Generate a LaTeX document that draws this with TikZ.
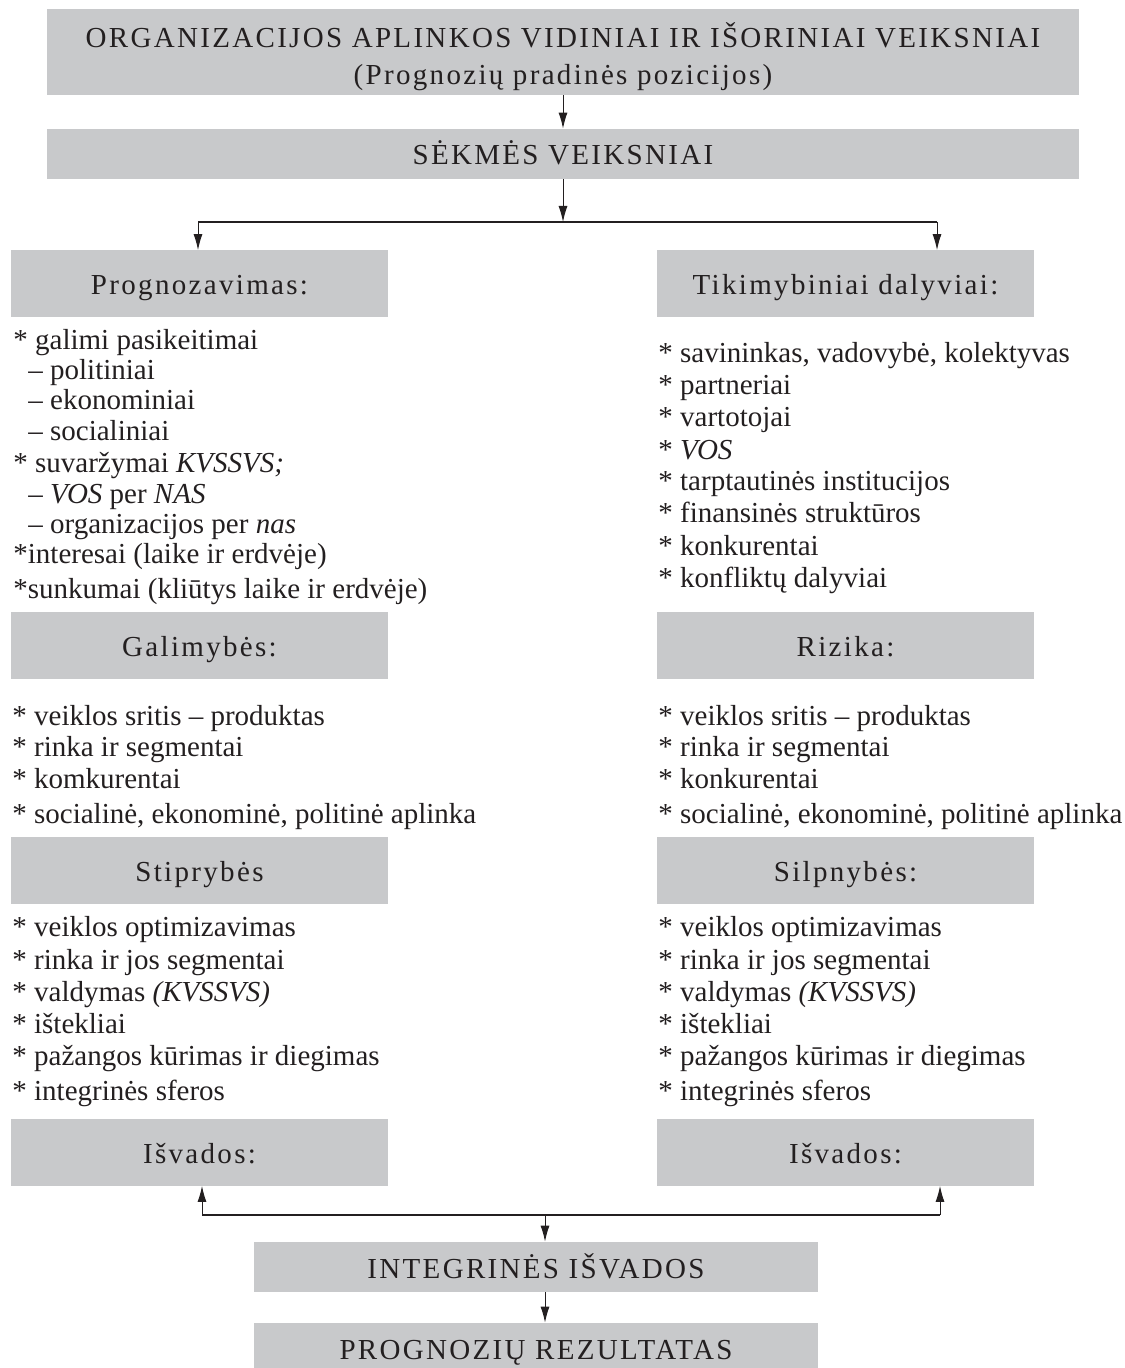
\documentclass[tikz,border=0pt]{standalone}
\usepackage{fontspec}
\setmainfont{Liberation Serif}
\newfontfamily\spacedfont[LetterSpace=8]{Liberation Serif}
\usetikzlibrary{arrows.meta}
\definecolor{boxgray}{HTML}{C8C9CB}
\definecolor{ink}{HTML}{231F20}

\begin{document}
\begin{tikzpicture}[x=0.5pt, y=-0.5pt,
  hbox/.style={fill=boxgray, inner sep=0pt, text=ink, align=center,
    font=\spacedfont\fontsize{14.5}{18.5}\selectfont},
  wide/.style={minimum width=516pt, minimum height=25pt, text height=14pt, text depth=3pt},
  side/.style={minimum width=188.5pt, minimum height=33.5pt, text height=14pt, text depth=3pt},
  mid/.style={minimum width=282pt, minimum height=25pt, text height=14pt, text depth=3pt},
  item/.style={anchor=base west, inner sep=0pt, text=ink, font=\fontsize{14.5}{17}\selectfont},
  arr/.style={ink, line width=0.5pt, -{Latex[length=8pt, width=4.5pt]}},
  bus/.style={ink, line width=1.4pt}]
  \useasboundingbox (0,0) rectangle (1124,1368);

  \node[hbox, minimum width=516pt, minimum height=43pt] (org) at (563,52)
    {\rule{0pt}{17pt}ORGANIZACIJOS APLINKOS VIDINIAI IR IŠORINIAI VEIKSNIAI\\(Prognozių pradinės pozicijos)};
  \node[hbox, wide] (sek) at (563,154) {SĖKMĖS VEIKSNIAI};

  \node[hbox, side] (prog) at (199.5,284) {Prognozavimas:};
  \node[hbox, side] (tik) at (845.5,284) {Tikimybiniai dalyviai:};
  \node[hbox, side] (gal) at (199.5,645.5) {Galimybės:};
  \node[hbox, side] (riz) at (845.5,645.5) {Rizika:};
  \node[hbox, side] (stip) at (199.5,870) {Stiprybės};
  \node[hbox, side] (silp) at (845.5,870) {Silpnybės:};
  \node[hbox, side] (isvl) at (199.5,1152) {Išvados:};
  \node[hbox, side] (isvr) at (845.5,1152) {Išvados:};

  \node[hbox, mid] (integ) at (536,1267) {INTEGRINĖS IŠVADOS};
  \node[hbox, mid] (rez) at (536,1348) {PROGNOZIŲ REZULTATAS};

  \foreach \x/\y/\t [count=\i] in {13/350/{* galimi pasikeitimai}, 28/380/{– politiniai},
      28/410/{– ekonominiai}, 28/441/{– socialiniai}, 13/473/{* suvaržymai \textit{KVSSVS;}},
      28/503/{– \textit{VOS} per \textit{NAS}}, 28/533/{– organizacijos per \textit{nas}},
      13/563/{*interesai (laike ir erdvėje)}, 13/598/{*sunkumai (kliūtys laike ir erdvėje)}}
    \node[item] (pl\i) at (\x,\y) {\t};

  \foreach \y/\t [count=\i] in {363/{* savininkas, vadovybė, kolektyvas}, 395/{* partneriai},
      427/{* vartotojai}, 460/{* \textit{VOS}}, 491/{* tarptautinės institucijos},
      523/{* finansinės struktūros}, 555/{* konkurentai}, 587/{* konfliktų dalyviai}}
    \node[item] (tl\i) at (658,\y) {\t};

  \foreach \cx/\s/\k in {12/l/komkurentai, 658/r/konkurentai} {
    \foreach \y/\t [count=\i] in {725/{* veiklos sritis – produktas}, 756/{* rinka ir segmentai},
        788/{* \k}, 823/{* socialinė, ekonominė, politinė aplinka}}
      \node[item] (g\s\i) at (\cx,\y) {\t};
    \foreach \y/\t [count=\i] in {936/{* veiklos optimizavimas}, 969/{* rinka ir jos segmentai},
        1001/{* valdymas \textit{(KVSSVS)}}, 1033/{* ištekliai},
        1065/{* pažangos kūrimas ir diegimas}, 1100/{* integrinės sferos}}
      \node[item] (s\s\i) at (\cx,\y) {\t};
  }

  \coordinate (busl) at (198,222);
  \coordinate (busr) at (937,222);
  \draw[arr] (org) -- (sek);
  \draw[arr] (sek.south) -- (sek.south |- busl);
  \draw[bus] (busl) -- (busr);
  \draw[arr] (busl) -- (busl |- prog.north);
  \draw[arr] (busr) -- (busr |- tik.north);

  \coordinate (jl) at (202,1215);
  \coordinate (jr) at (940,1215);
  \coordinate (jm) at (545,1215);
  \draw[bus] (jl) -- (jr);
  \draw[arr] (jl) -- (jl |- isvl.south);
  \draw[arr] (jr) -- (jr |- isvr.south);
  \draw[arr] (jm) -- (jm |- integ.north);
  \draw[arr] (integ.south -| jm) -- (rez.north -| jm);
\end{tikzpicture}
\end{document}
